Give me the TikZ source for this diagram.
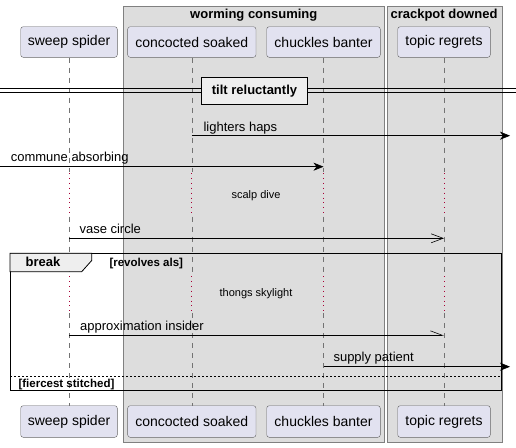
\documentclass[tikz,border=0pt]{standalone}
\usepackage{fontspec}
\setmainfont{Liberation Sans}
\usetikzlibrary{arrows.meta}

\definecolor{actorfill}{HTML}{E2E2F0}
\definecolor{boxfill}{HTML}{DDDDDD}
\definecolor{tabfill}{HTML}{EEEEEE}
\definecolor{delayred}{HTML}{A80036}

\begin{document}
\begin{tikzpicture}
[x=1pt,y=-1pt,
  actordecorate/.style={shape=rectangle,rounded corners=2.5pt,draw=gray!80!black,
    fill=actorfill,font=\fontsize{14}{16}\selectfont,inner sep=0pt},%
  boxdecorate/.style={draw=gray,fill=boxfill},%
  lifedecorate/.style={gray!90!black,dash pattern=on 5pt off 5pt},%
  delaydecorate/.style={delayred,line width=0.9pt,dash pattern=on 0.9pt off 4pt},%
  msgdecorate/.style={-{Stealth[length=10pt,width=8pt,inset=3pt]},semithick},%
  opendecorate/.style={-{Straight Barb[length=12pt,width=9pt]},semithick},%
  halfdecorate/.style={-{Straight Barb[left,length=12pt,width=9pt]},semithick},%
  labeldecorate/.style={font=\fontsize{13}{15}\selectfont,anchor=base west},%
  notedecorate/.style={font=\fontsize{11}{13}\selectfont},%
  guarddecorate/.style={font=\bfseries\fontsize{11.5}{13}\selectfont,anchor=base west}]
\fill[white] (0,0) rectangle (516,447);
\useasboundingbox (0,0) rectangle (516,447);
%% boxes
\draw[boxdecorate] (123.3,6) rectangle (384.3,442.3);
\draw[boxdecorate] (386.7,6) rectangle (501.7,442.3);
\node[font=\bfseries\fontsize{13}{15}\selectfont] (wc) at (253.8,15) {worming consuming};
\node[font=\bfseries\fontsize{13}{15}\selectfont] (cd) at (444,15) {crackpot downed};
%% participants
\foreach \nodename/\x/\w/\txt in {a/69/96.6/sweep spider, b/191.8/128.3/concocted soaked,
  c/323.5/113.6/chuckles banter, d/444/92.6/topic regrets} {
  \node (t\nodename) at (\x,42) [actordecorate,minimum width=\w pt,minimum height=30.6pt] {\txt};
  \node (f\nodename) at (\x,421.5) [actordecorate,minimum width=\w pt,minimum height=31.6pt] {\txt};
}
%% lifelines
\foreach \nodename in {a,b,c,d} {
  \draw[lifedecorate] (t\nodename.south) -- (t\nodename |- 0,171.7);
  \draw[delaydecorate] (t\nodename |- 0,173) -- (t\nodename |- 0,216.7);
  \draw[lifedecorate] (t\nodename |- 0,216.7) -- (t\nodename |- 0,275);
  \draw[delaydecorate] (t\nodename |- 0,276) -- (t\nodename |- 0,313.3);
  \draw[lifedecorate] (t\nodename |- 0,313.3) -- (f\nodename.north);
}
%% divider
\draw (0,88) -- (516,88);
\draw (0,92) -- (516,92);
\node (tilt) at (254.5,91) [draw,very thick,fill=tabfill,minimum width=105.6pt,
  minimum height=26.6pt,inner sep=0pt,font=\bfseries\fontsize{13}{15}\selectfont] {tilt reluctantly};
%% messages
\coordinate (right1) at (510,135.7);
\coordinate (left1) at (0,166.7);
\coordinate (right2) at (510,366.7);
\draw[msgdecorate] (tb |- 0,135.7) -- (right1);
\node[labeldecorate] at (200,131) {lighters haps};
\draw[msgdecorate] (left1) -- (tc |- 0,166.7);
\node[labeldecorate] at (7.3,161) {commune absorbing};
\node[notedecorate] (scalp) at (256,195.7) {scalp dive};
\draw[opendecorate] (ta |- 0,238.3) -- (td |- 0,238.3);
\node[labeldecorate] at (76,233) {vase circle};
%% break group
\draw[thick] (10,253.3) rectangle (501,390);
\draw[thick,fill=tabfill] (10,253.3) -- (91.7,253.3) -- (91.7,260.5) -- (81.7,271.7)
  -- (10,271.7) -- cycle;
\node[font=\bfseries\fontsize{13}{15}\selectfont] (brk) at (43,262.3) {break};
\node[guarddecorate] at (106,266.8) {[revolves als]};
\node[notedecorate] (thongs) at (256,293.3) {thongs skylight};
\draw[halfdecorate] (ta |- 0,335.3) -- (td |- 0,335.3);
\node[labeldecorate] at (76.7,330.5) {approximation insider};
\draw[msgdecorate] (tc |- 0,366.7) -- (right2);
\node[labeldecorate] at (330,361) {supply patient};
\draw[dash pattern=on 2pt off 2pt] (10,375.7) -- (501,375.7);
\node[guarddecorate] at (15,387.3) {[fiercest stitched]};
\end{tikzpicture}
\end{document}
